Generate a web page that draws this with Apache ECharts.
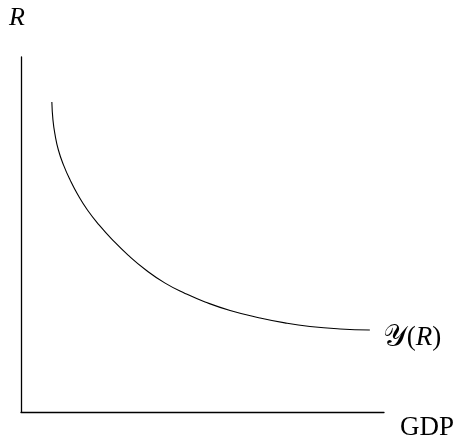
<!DOCTYPE html>
<html>
<head>
<meta charset="utf-8">
<script src="https://cdn.jsdelivr.net/npm/echarts@6/dist/echarts.min.js"></script>
<style>
  html, body { margin: 0; padding: 0; background: #fff; }
  #chart { width: 461px; height: 441px; }
</style>
</head>
<body>
<div id="chart"></div>
<script>
// Output (GDP) along the horizontal axis, interest rate R on the vertical one
const gdpValues = [0.85, 0.88, 0.94, 1.03, 1.17, 1.35, 1.57, 1.83, 2.15, 2.52, 2.95,
                   3.44, 3.97, 4.52, 5.07, 5.76, 6.58, 7.27, 7.96, 8.79, 9.61];
const rateValues = [8.73, 8.23, 7.80, 7.38, 6.96, 6.54, 6.11, 5.69, 5.27, 4.85, 4.42,
                    4.00, 3.63, 3.34, 3.10, 2.86, 2.65, 2.51, 2.41, 2.34, 2.31];
const xAxisName = 'GDP';
const yAxisName = 'R';
const curveSymbol = '𝒴';
const curveArg = 'R';

const curve = gdpValues.map((x, i) => [x, rateValues[i]]);

const serif = 'Liberation Serif';

const chart = echarts.init(document.getElementById('chart'), null, { renderer: 'canvas' });
chart.setOption({
  animation: false,
  backgroundColor: '#ffffff',
  grid: { left: 21, right: 77, top: 57, bottom: 29, outerBoundsMode: 'none', containLabel: false },
  xAxis: {
    type: 'value', min: 0, max: 10,
    name: xAxisName, nameLocation: 'end', nameGap: 16,
    nameTextStyle: {
      fontFamily: serif, fontSize: 27, color: '#000',
      verticalAlign: 'top', lineHeight: 32
    },
    axisLine: { show: true, lineStyle: { color: '#000', width: 1.3 } },
    axisTick: { show: false }, axisLabel: { show: false }, splitLine: { show: false }
  },
  yAxis: {
    type: 'value', min: 0, max: 10,
    name: '{r|' + yAxisName + '}', nameLocation: 'end', nameGap: 26,
    nameTextStyle: {
      align: 'center',
      rich: {
        r: { fontFamily: serif, fontStyle: 'italic', fontSize: 26, color: '#000', padding: [0, 8, 0, 0] }
      }
    },
    axisLine: { show: true, lineStyle: { color: '#000', width: 1.3 } },
    axisTick: { show: false }, axisLabel: { show: false }, splitLine: { show: false }
  },
  series: [{
    type: 'line',
    data: curve,
    smooth: 0.5,
    showSymbol: false,
    lineStyle: { color: '#000', width: 1.1 },
    endLabel: {
      show: true,
      formatter: '{s|' + curveSymbol + '}{p|(}{r|' + curveArg + '}{p|)}',
      distance: 13,
      offset: [0, 8],
      rich: {
        s: { fontFamily: 'DejaVu Serif', fontSize: 30, color: '#000' },
        p: { fontFamily: serif, fontSize: 27, color: '#000' },
        r: { fontFamily: serif, fontStyle: 'italic', fontSize: 27, color: '#000' }
      }
    }
  }]
});
</script>
</body>
</html>
